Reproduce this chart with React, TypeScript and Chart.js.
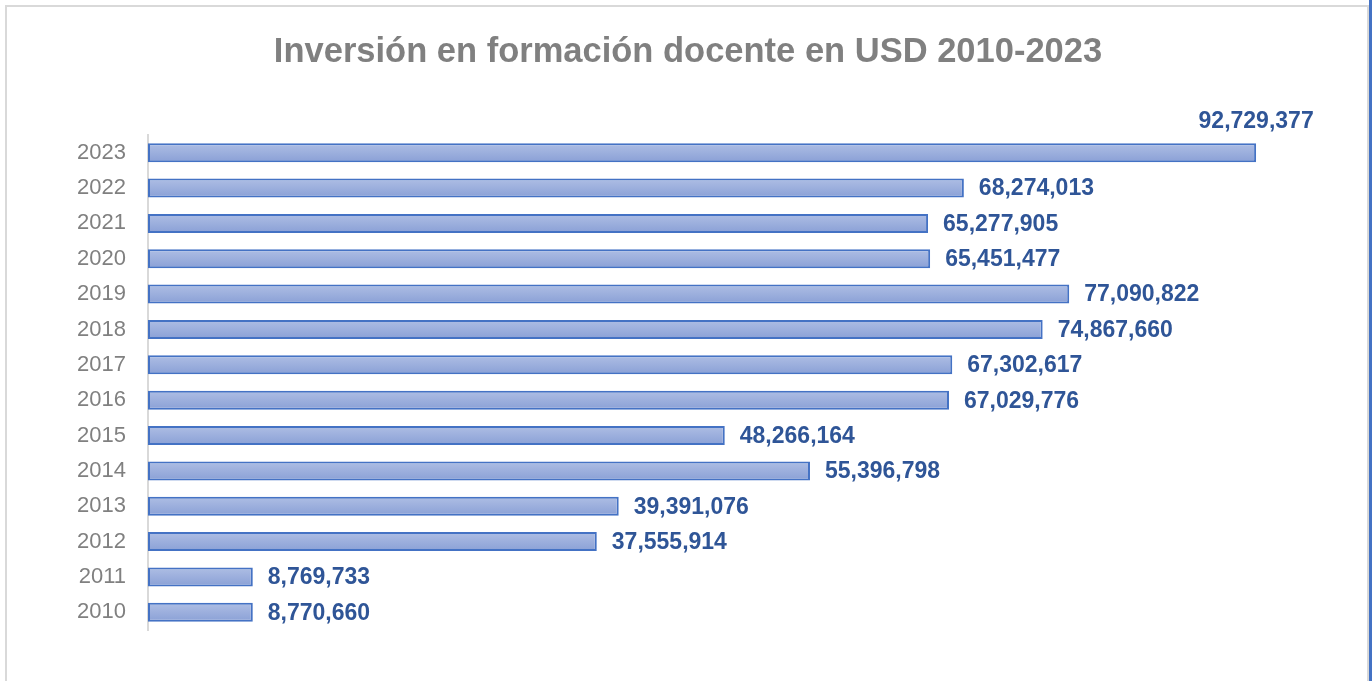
import React, { useEffect, useRef } from "react";
import { Chart, registerables } from "chart.js";

Chart.register(...registerables);

const years = ["2010", "2011", "2012", "2013", "2014", "2015", "2016", "2017", "2018", "2019", "2020", "2021", "2022", "2023"];
const investment = [8770660, 8769733, 37555914, 39391076, 55396798, 48266164, 67029776, 67302617, 74867660, 77090822, 65451477, 65277905, 68274013, 92729377];
const titleText = "Inversión en formación docente en USD 2010-2023";
const xMax = 100000000;

const fmt = (v: number) => v.toLocaleString("en-US");

const titlePlugin = {
  id: "customTitle",
  afterDraw(chart: any) {
    const { ctx } = chart;
    ctx.save();
    ctx.font = "bold 34.5px 'Liberation Sans', Arial, sans-serif";
    ctx.fillStyle = "#808080";
    ctx.textAlign = "center";
    ctx.textBaseline = "alphabetic";
    ctx.fillText(titleText, 688, 62);
    ctx.restore();
  },
};

const labelPlugin = {
  id: "barValueLabels",
  afterDatasetsDraw(chart: any) {
    const { ctx } = chart;
    const meta = chart.getDatasetMeta(0);
    ctx.save();
    ctx.font = "bold 23px 'Liberation Sans', Arial, sans-serif";
    ctx.fillStyle = "#2F5597";
    ctx.textBaseline = "middle";
    meta.data.forEach((el: any, i: number) => {
      const text = fmt(investment[i]);
      const w = ctx.measureText(text).width;
      const x = el.x + 15;
      if (x + w > chart.width - 4) {
        ctx.textAlign = "center";
        ctx.fillText(text, el.x, el.y - 31);
      } else {
        ctx.textAlign = "left";
        ctx.fillText(text, x, el.y + 1);
      }
    });
    ctx.restore();
  },
};

export default function App() {
  const ref = useRef<HTMLCanvasElement | null>(null);

  useEffect(() => {
    if (!ref.current) return;
    const chart = new Chart(ref.current, {
      type: "bar",
      data: {
        labels: years,
        datasets: [
          {
            data: investment,
            backgroundColor: (c: any) => {
              const ch = c.chart;
              const ys = ch.scales && ch.scales.y;
              if (!ys || c.dataIndex === undefined) return "#9BAFDD";
              const y = ys.getPixelForValue(c.dataIndex);
              if (!Number.isFinite(y)) return "#9BAFDD";
              const g = ch.ctx.createLinearGradient(0, y - 9.5, 0, y + 9.5);
              g.addColorStop(0, "#AEBEE4");
              g.addColorStop(1, "#8AA0D6");
              return g;
            },
            borderColor: "#4472C4",
            borderWidth: 2,
            borderSkipped: false,
            categoryPercentage: 1,
            barPercentage: 0.537,
          },
        ],
      },
      options: {
        indexAxis: "y",
        responsive: false,
        animation: false,
        devicePixelRatio: 1,
        layout: { padding: { left: 0, right: 29, bottom: 51, top: 135 } },
        plugins: {
          legend: { display: false },
          tooltip: { enabled: false },
          title: { display: false },
        },
        scales: {
          x: {
            display: false,
            min: 0,
            max: xMax,
          },
          y: {
            reverse: true,
            grid: { display: false },
            border: { display: true, color: "#D9D9D9", width: 2 },
            ticks: {
              color: "#808080",
              padding: 14,
              font: { family: "'Liberation Sans', Arial, sans-serif", size: 22 },
            },
            afterFit: (s: any) => {
              s.width = 148;
            },
          },
        },
      },
      plugins: [labelPlugin, titlePlugin],
    } as any);
    return () => chart.destroy();
  }, []);

  return (
    <div style={{ position: "fixed", left: 0, top: 0, width: 1372, height: 681, background: "#fff", overflow: "hidden" }}>
      <div style={{ position: "absolute", left: 5, top: 5, width: 1360, height: 720, border: "2px solid #D9D9D9" }} />
      <div style={{ position: "absolute", left: 1369, top: 0, width: 3, height: 681, background: "#4472C4" }} />
      <canvas ref={ref} width={1372} height={681} style={{ position: "absolute", left: 0, top: 0, width: 1372, height: 681 }} />
    </div>
  );
}
